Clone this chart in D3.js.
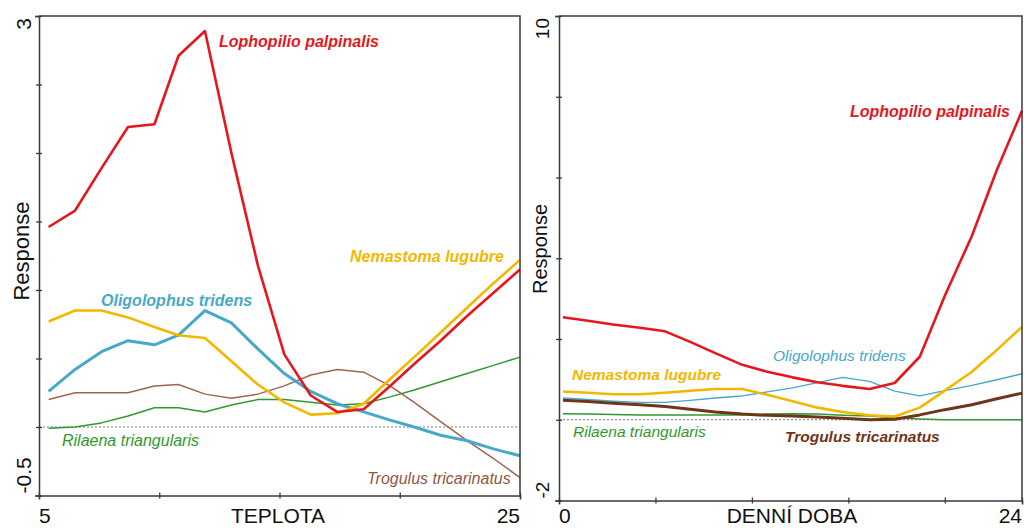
<!DOCTYPE html>
<html>
<head>
<meta charset="utf-8">
<script src="https://cdn.jsdelivr.net/npm/d3@7"></script>
<style>
  html, body { margin: 0; padding: 0; background: #fff; }
  svg { display: block; font-family: "Liberation Sans", Arial, sans-serif; }
</style>
</head>
<body>
<svg id="chart" width="1024" height="528"></svg>
<script>
// ---- Temperature panel (TEPLOTA) ----
const tempX = [5.4, 6.5, 7.6, 8.7, 9.8, 10.8, 11.9, 13.0, 14.1, 15.2, 16.3, 17.4, 18.5, 19.6, 20.6, 21.7, 22.8, 23.9, 25.0];
const tempLophopilio = [1.46, 1.58, 1.89, 2.19, 2.21, 2.71, 2.89, 2.0, 1.18, 0.53, 0.23, 0.11, 0.13, 0.30, 0.46, 0.63, 0.81, 0.98, 1.15];
const tempNemastoma  = [0.77, 0.85, 0.85, 0.80, 0.73, 0.67, 0.65, 0.48, 0.31, 0.18, 0.09, 0.10, 0.17, 0.35, 0.51, 0.69, 0.87, 1.05, 1.22];
const tempOligolophus = [0.26, 0.42, 0.55, 0.63, 0.60, 0.67, 0.85, 0.76, 0.57, 0.39, 0.26, 0.17, 0.11, 0.05, 0.0, -0.06, -0.10, -0.16, -0.21];
const tempTrogulus   = [0.20, 0.25, 0.25, 0.25, 0.30, 0.31, 0.24, 0.21, 0.24, 0.30, 0.38, 0.42, 0.40, 0.30, 0.18, 0.04, -0.10, -0.23, -0.37];
const tempRilaena    = [-0.01, 0.0, 0.03, 0.08, 0.14, 0.14, 0.11, 0.16, 0.20, 0.20, 0.18, 0.16, 0.17, 0.22, 0.27, 0.33, 0.39, 0.45, 0.51];
const tempXTicks = [5, 10, 15, 20, 25];
const tempYTicks = [-0.5, 0, 0.5, 1, 1.5, 2, 2.5, 3];

// ---- Time-of-day panel (DENNÍ DOBA) ----
const hourX = [0.2, 1.5, 2.8, 4.2, 5.5, 6.8, 8.1, 9.5, 10.8, 12.1, 13.4, 14.7, 16.1, 17.4, 18.7, 20.0, 21.4, 22.7, 24.0];
const hourLophopilio = [2.54, 2.45, 2.36, 2.28, 2.19, 1.93, 1.65, 1.36, 1.19, 1.05, 0.93, 0.84, 0.76, 0.91, 1.56, 3.07, 4.55, 6.19, 7.65];
const hourNemastoma  = [0.70, 0.67, 0.63, 0.63, 0.67, 0.72, 0.76, 0.76, 0.62, 0.46, 0.30, 0.19, 0.11, 0.08, 0.30, 0.72, 1.19, 1.73, 2.30];
const hourOligolophus = [0.54, 0.50, 0.46, 0.43, 0.43, 0.48, 0.54, 0.59, 0.69, 0.79, 0.92, 1.05, 0.95, 0.71, 0.59, 0.72, 0.85, 0.99, 1.14];
const hourTrogulus   = [0.48, 0.45, 0.41, 0.37, 0.33, 0.26, 0.19, 0.14, 0.11, 0.09, 0.07, 0.04, 0.0, 0.01, 0.12, 0.25, 0.37, 0.52, 0.66];
const hourRilaena    = [0.15, 0.14, 0.13, 0.12, 0.12, 0.12, 0.12, 0.12, 0.14, 0.15, 0.14, 0.11, 0.09, 0.05, 0.02, 0.0, 0.0, 0.0, 0.0];
const hourXTicks = [0, 5, 10, 15, 20, 24];
const hourYTicks = [-2, 0, 2, 4, 6, 8, 10];

const svg = d3.select("#chart");
svg.append("rect").attr("width", 1024).attr("height", 528).attr("fill", "#fff");

const AXIS = "#3a3a3a";

function drawPanel(cfg) {
  const x = d3.scaleLinear().domain(cfg.xDomain).range(cfg.xRange);
  const y = d3.scaleLinear().domain(cfg.yDomain).range(cfg.yRange);
  const g = svg.append("g");

  // zero reference line
  g.append("line")
    .attr("x1", x.range()[0]).attr("x2", x.range()[1])
    .attr("y1", y(0)).attr("y2", y(0))
    .attr("stroke", "#777").attr("stroke-width", 1)
    .attr("stroke-dasharray", "2,2");

  // series
  const line = d3.line().x((d, i) => x(cfg.xs[i])).y(d => y(d));
  cfg.series.forEach(s => {
    g.append("path")
      .attr("d", line(s.values))
      .attr("fill", "none")
      .attr("stroke", s.color)
      .attr("stroke-width", s.width)
      .attr("stroke-linejoin", "round");
  });

  // frame: top and right edges
  g.append("path")
    .attr("d", `M${x.range()[0]},${y.range()[1]}H${x.range()[1]}V${y.range()[0]}`)
    .attr("fill", "none").attr("stroke", AXIS).attr("stroke-width", 1.5);

  // axes with ticks crossing the line
  const ax = g.append("g").attr("transform", `translate(0,${y.range()[0]})`)
    .call(d3.axisBottom(x).tickValues(cfg.xTicks).tickSize(4).tickFormat(""));
  const ay = g.append("g").attr("transform", `translate(${x.range()[0]},0)`)
    .call(d3.axisLeft(y).tickValues(cfg.yTicks).tickSize(4).tickFormat(""));
  [ax, ay].forEach(a => {
    a.select(".domain").attr("stroke", AXIS).attr("stroke-width", 1.5);
    a.selectAll(".tick line").attr("stroke", AXIS).attr("stroke-width", 1.3);
  });
  ax.selectAll(".tick line").attr("y1", -3).attr("y2", 3);
  ay.selectAll(".tick line").attr("x1", -3).attr("x2", 3);

  // x tick labels (ends only) and axis title
  const xFont = 21;
  const xb = 523;
  g.append("text").attr("x", x.range()[0]).attr("y", xb)
    .attr("text-anchor", "start").attr("font-size", xFont).attr("fill", "#111")
    .text(cfg.xLabels[0]);
  g.append("text").attr("x", x.range()[1]).attr("y", xb)
    .attr("text-anchor", "end").attr("font-size", xFont).attr("fill", "#111")
    .text(cfg.xLabels[1]);
  g.append("text").attr("x", cfg.xTitleX).attr("y", xb)
    .attr("text-anchor", "middle").attr("font-size", xFont).attr("fill", "#111")
    .text(cfg.xTitle);

  // rotated y labels (ends only) and axis title
  const yb = cfg.yLabelX;
  g.append("text").attr("transform", `translate(${yb},${y.range()[1] + 2}) rotate(-90)`)
    .attr("text-anchor", "end").attr("font-size", cfg.yFont).attr("fill", "#111")
    .text(cfg.yLabels[1]);
  g.append("text").attr("transform", `translate(${yb},${y.range()[0] - 2}) rotate(-90)`)
    .attr("text-anchor", "start").attr("font-size", cfg.yFont).attr("fill", "#111")
    .text(cfg.yLabels[0]);
  g.append("text").attr("transform", `translate(${yb - 2},${cfg.yTitleY}) rotate(-90)`)
    .attr("text-anchor", "middle").attr("font-size", cfg.yFont + 1).attr("fill", "#111")
    .text("Response");

  // species names
  cfg.labels.forEach(l => {
    g.append("text")
      .attr("x", l.x).attr("y", l.y)
      .attr("font-size", l.size || 16)
      .attr("font-style", "italic")
      .attr("font-weight", l.bold ? "bold" : "normal")
      .attr("fill", l.color)
      .text(l.text);
  });
}

const RED = "#e5171d", GOLD = "#f4b700", BLUE = "#46a9c9", GREEN = "#2f992f",
      BROWN = "#a0654d", DARKBROWN = "#6f3519";

drawPanel({
  xDomain: [5, 25], xRange: [39, 520],
  yDomain: [-0.5, 3], yRange: [495.5, 16],
  xs: tempX, xTicks: tempXTicks, yTicks: tempYTicks,
  xLabels: ["5", "25"], yLabels: ["-0.5", "3"],
  xTitle: "TEPLOTA", xTitleX: 278,
  yLabelX: 31, yFont: 21, yTitleY: 251,
  series: [
    { values: tempRilaena, color: GREEN, width: 1.5 },
    { values: tempTrogulus, color: BROWN, width: 1.5 },
    { values: tempOligolophus, color: BLUE, width: 3 },
    { values: tempNemastoma, color: GOLD, width: 2.6 },
    { values: tempLophopilio, color: RED, width: 2.6 }
  ],
  labels: [
    { text: "Lophopilio palpinalis", x: 219, y: 47, color: RED, bold: true },
    { text: "Nemastoma lugubre", x: 350, y: 262, color: GOLD, bold: true },
    { text: "Oligolophus tridens", x: 101, y: 306, color: BLUE, bold: true },
    { text: "Rilaena triangularis", x: 62, y: 446, color: GREEN, bold: false },
    { text: "Trogulus tricarinatus", x: 367, y: 484, color: "#8e5843", bold: false }
  ]
});

drawPanel({
  xDomain: [0, 24], xRange: [559, 1022],
  yDomain: [-2, 10], yRange: [500.5, 16],
  xs: hourX, xTicks: hourXTicks, yTicks: hourYTicks,
  xLabels: ["0", "24"], yLabels: ["-2", "10"],
  xTitle: "DENNÍ DOBA", xTitleX: 792,
  yLabelX: 549, yFont: 19, yTitleY: 249,
  series: [
    { values: hourRilaena, color: GREEN, width: 1.5 },
    { values: hourOligolophus, color: BLUE, width: 1.4 },
    { values: hourTrogulus, color: DARKBROWN, width: 3 },
    { values: hourNemastoma, color: GOLD, width: 2.6 },
    { values: hourLophopilio, color: RED, width: 2.6 }
  ],
  labels: [
    { text: "Lophopilio palpinalis", x: 850, y: 117, color: RED, bold: true },
    { text: "Oligolophus tridens", x: 773, y: 361, color: BLUE, bold: false, size: 15.5 },
    { text: "Nemastoma lugubre", x: 572, y: 380, color: GOLD, bold: true, size: 15.5 },
    { text: "Rilaena triangularis", x: 573, y: 437, color: GREEN, bold: false, size: 15.5 },
    { text: "Trogulus tricarinatus", x: 785, y: 442, color: DARKBROWN, bold: true, size: 15.5 }
  ]
});
</script>
</body>
</html>
